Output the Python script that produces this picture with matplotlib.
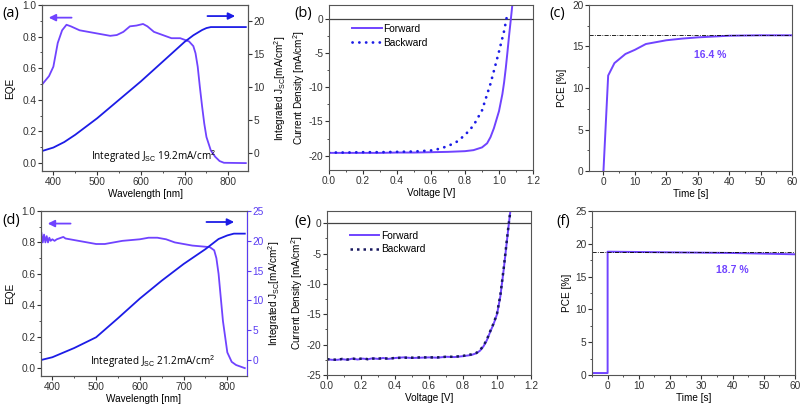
import numpy as np
import matplotlib
matplotlib.use("Agg")
import matplotlib.pyplot as plt
from matplotlib.ticker import MultipleLocator

plt.rcParams['font.family'] = ['Liberation Sans', 'DejaVu Sans']
plt.rcParams['mathtext.fontset'] = 'custom'
plt.rcParams['mathtext.rm'] = 'Liberation Sans'
plt.rcParams['mathtext.it'] = 'Liberation Sans:italic'
plt.rcParams['axes.unicode_minus'] = False
plt.rcParams['font.size'] = 7.2

PURPLE = '#7043ff'
BLUE = '#1c1ce6'
NAVY = '#18185e'
SPINE = '#555555'

# ---- (a) EQE + integrated Jsc, device 1
a_wl = [375, 390, 400, 410, 420, 430, 440, 460, 480, 500, 520, 530, 545, 560, 575, 590, 605, 615,
        630, 650, 670, 690, 700, 710, 720, 725, 730, 735, 740, 745, 750, 760, 770, 780, 790, 840]
a_eqe = [0.50, 0.55, 0.61, 0.76, 0.84, 0.875, 0.865, 0.84, 0.83, 0.82, 0.81, 0.805, 0.81, 0.83, 0.865,
         0.87, 0.88, 0.865, 0.83, 0.81, 0.79, 0.79, 0.78, 0.77, 0.74, 0.695, 0.61, 0.48, 0.36, 0.25,
         0.165, 0.08, 0.04, 0.013, 0.002, 0.0]
a_jwl = [375, 400, 425, 450, 500, 550, 600, 650, 700, 720, 740, 750, 760, 840]
a_jsc = [0.35, 0.86, 1.7, 2.8, 5.3, 8.1, 10.9, 13.9, 16.9, 17.9, 18.7, 19.0, 19.15, 19.15]

# ---- (d) EQE + integrated Jsc, device 2
d_wl = [375, 378, 381, 384, 387, 390, 393, 396, 400, 405, 410, 420, 425, 430, 440, 460, 480, 500, 520,
        540, 560, 580, 600, 620, 640, 660, 680, 700, 720, 740, 760, 770, 775, 780, 785, 790, 795,
        800, 810, 820, 830, 840]
d_eqe = [0.86, 0.80, 0.85, 0.80, 0.84, 0.80, 0.83, 0.81, 0.82, 0.81, 0.82, 0.83, 0.835, 0.825, 0.82,
         0.81, 0.80, 0.79, 0.79, 0.80, 0.81, 0.815, 0.82, 0.83, 0.83, 0.82, 0.80, 0.79, 0.78, 0.775,
         0.77, 0.75, 0.70, 0.60, 0.45, 0.30, 0.20, 0.10, 0.04, 0.02, 0.01, 0.0]
d_jwl = [375, 400, 450, 500, 550, 600, 650, 700, 750, 780, 800, 815, 840]
d_jsc = [0.0, 0.45, 2.0, 3.8, 7.0, 10.3, 13.3, 16.1, 18.6, 20.3, 20.9, 21.2, 21.2]

# ---- (b) J-V, device 1
b_v = [0.0, 0.1, 0.2, 0.3, 0.4, 0.5, 0.6, 0.7, 0.8, 0.85, 0.9, 0.93, 0.95, 0.97, 1.0, 1.02, 1.03,
       1.04, 1.05, 1.06, 1.07, 1.08]
b_fwd = [-19.6, -19.6, -19.6, -19.6, -19.55, -19.55, -19.5, -19.45, -19.35, -19.2, -18.8, -18.2,
         -17.3, -16.0, -13.5, -11.0, -9.3, -7.2, -4.8, -2.3, 0.0, 2.4]
b_bv = [0.0, 0.1, 0.2, 0.3, 0.4, 0.5, 0.6, 0.65, 0.7, 0.75, 0.8, 0.85, 0.9, 0.95, 1.0, 1.03, 1.05]
b_bwd = [-19.55, -19.55, -19.5, -19.5, -19.45, -19.4, -19.25, -19.0, -18.6, -18.0, -17.0, -15.6,
         -13.4, -9.5, -4.8, -1.8, 0.8]

# ---- (e) J-V, device 2
e_v = [0.0, 0.03, 0.06, 0.09, 0.12, 0.15, 0.18, 0.21, 0.24, 0.27, 0.3, 0.33, 0.36, 0.4, 0.45, 0.5,
       0.55, 0.6, 0.65, 0.7, 0.75, 0.8, 0.85, 0.88, 0.9, 0.92, 0.94, 0.96, 0.98, 1.0, 1.02, 1.04,
       1.06, 1.07, 1.08]
e_fwd = [-22.4, -22.5, -22.5, -22.4, -22.5, -22.3, -22.45, -22.3, -22.4, -22.25, -22.35, -22.2,
         -22.35, -22.2, -22.1, -22.2, -22.15, -22.1, -22.15, -22.0, -22.05, -21.9, -21.7, -21.4,
         -21.0, -20.3, -19.3, -17.9, -16.6, -15.0, -12.0, -7.5, -2.5, 0.0, 2.3]
e_bwd = [-22.4, -22.45, -22.5, -22.35, -22.45, -22.3, -22.4, -22.25, -22.4, -22.3, -22.3, -22.25,
         -22.3, -22.2, -22.15, -22.15, -22.1, -22.1, -22.1, -22.0, -22.0, -21.85, -21.6, -21.35,
         -20.9, -20.2, -19.2, -17.8, -16.5, -14.9, -11.8, -7.3, -2.3, 0.1, 2.3]

# ---- (c), (f) stabilised PCE
c_t = [0, 1.5, 3.5, 7, 10, 13.5, 20, 25, 30, 40, 50, 60]
c_pce = [0, 11.5, 13.0, 14.1, 14.6, 15.3, 15.75, 15.95, 16.1, 16.3, 16.35, 16.35]
c_ss = 16.4
f_t = [-5, 0, 0, 10, 20, 30, 40, 50, 60]
f_pce = [0.3, 0.3, 18.8, 18.75, 18.7, 18.65, 18.6, 18.5, 18.4]
f_ss = 18.7

W, H = 802, 409
fig = plt.figure(figsize=(W / 100, H / 100), dpi=100)


def box(l, t, r, b):
    return fig.add_axes([l / W, 1 - b / H, (r - l) / W, (b - t) / H])


def style(ax, right=False):
    for s in ax.spines.values():
        s.set_color(SPINE)
        s.set_linewidth(0.8)
    ax.tick_params(which='both', direction='out', colors='#333333', labelsize=7.3,
                   top=False, right=right, pad=1.5)
    ax.tick_params(which='major', length=2.6)
    ax.tick_params(which='minor', length=1.6)


def panel_label(x, y, s):
    fig.text(x / W, 1 - y / H, s, fontsize=10.5, family=['Open Sans', 'DejaVu Sans'],
             va='center', ha='left')


def eqe_panel(ax, wl, eqe, jwl, jsc, rlim, text, rcolor, ll, rl):
    style(ax)
    ax.plot(wl, eqe, color=PURPLE, lw=1.3)
    ax.set_xlim(374, 845)
    ax.set_ylim(-0.05, 1.0)
    ax.xaxis.set_major_locator(MultipleLocator(100))
    ax.xaxis.set_minor_locator(MultipleLocator(50))
    ax.yaxis.set_major_locator(MultipleLocator(0.2))
    ax.yaxis.set_minor_locator(MultipleLocator(0.1))
    ax.set_xlabel('Wavelength [nm]', labelpad=2)
    ax.set_ylabel('EQE')
    ax.yaxis.set_label_coords(ll, 0.5)
    ax.annotate('', xy=(383, 0.92), xytext=(448, 0.92),
                arrowprops=dict(arrowstyle='-|>', color=PURPLE, lw=1.3, mutation_scale=10))
    ax.annotate('', xy=(822, 0.93), xytext=(746, 0.93),
                arrowprops=dict(arrowstyle='-|>', color=BLUE, lw=1.3, mutation_scale=10))
    ax.text(486, 0.04, text, fontsize=7.2, ha='left', va='center',
            family=['Open Sans', 'DejaVu Sans'])
    ax2 = ax.twinx()
    style(ax2, right=True)
    ax2.plot(jwl, jsc, color=BLUE, lw=1.3)
    ax2.set_ylim(*rlim)
    ax2.yaxis.set_major_locator(MultipleLocator(5))
    ax2.set_ylabel('Integrated J$_{\\mathrm{SC}}$[mA/cm$^2$]')
    ax2.yaxis.set_label_coords(rl, 0.5)
    if rcolor:
        ax2.spines['right'].set_color(rcolor)
        ax2.tick_params(axis='y', colors=rcolor)
    return ax2


def jv_panel(ax, v, fwd, bv, bwd, ylim, bcolor, bls, bcap, blw, yl, leg):
    style(ax)
    ax.axhline(0, color='#444444', lw=0.9)
    ax.plot(v, fwd, color=PURPLE, lw=1.4, label='Forward')
    ax.plot(bv, bwd, color=bcolor, lw=blw, ls=bls, dash_capstyle=bcap, label='Backward')
    ax.set_xlim(0, 1.2)
    ax.set_ylim(*ylim)
    ax.xaxis.set_major_locator(MultipleLocator(0.2))
    ax.xaxis.set_minor_locator(MultipleLocator(0.1))
    ax.yaxis.set_major_locator(MultipleLocator(5))
    ax.yaxis.set_minor_locator(MultipleLocator(2.5))
    ax.set_xlabel('Voltage [V]', labelpad=2)
    ax.set_ylabel('Current Density [mA/cm$^2$]')
    ax.yaxis.set_label_coords(yl, 0.5)
    ax.legend(loc='upper left', bbox_to_anchor=leg, frameon=False, fontsize=7.3,
              handlelength=2.9, handletextpad=0.15, labelspacing=0.35, borderaxespad=0,
              borderpad=0)


def pce_panel(ax, t, pce, ss, xlim, ylim, tx, ty, xl):
    style(ax)
    ax.plot(t, pce, color=PURPLE, lw=1.4)
    ax.axhline(ss, color='black', lw=0.6, ls=(0, (5, 1.5, 1, 1.5)))
    ax.set_xlim(*xlim)
    ax.set_ylim(*ylim)
    ax.xaxis.set_major_locator(MultipleLocator(10))
    ax.xaxis.set_minor_locator(MultipleLocator(5))
    ax.yaxis.set_major_locator(MultipleLocator(5))
    ax.yaxis.set_minor_locator(MultipleLocator(2.5))
    ax.set_xlabel('Time [s]', labelpad=2)
    ax.set_ylabel('PCE [%]')
    ax.yaxis.set_label_coords(xl, 0.5)
    ax.text(tx, ty, f'{ss} %', color=PURPLE, fontweight='bold', fontsize=7.5,
            ha='center', va='center')


axa = box(42, 5, 248, 171)
eqe_panel(axa, a_wl, a_eqe, a_jwl, a_jsc, (-2.7, 22.5),
          'Integrated J$_{\\mathrm{SC}}$ 19.2mA/cm$^2$', None, -0.13, 1.117)
axb = box(329, 5, 533, 170)
jv_panel(axb, b_v, b_fwd, b_bv, b_bwd, (-22.1, 2.0), BLUE, (0, (0.05, 2.4)), 'round', 2.0,
         -0.11, (0.115, 0.885))
axc = box(589, 5, 792, 171)
pce_panel(axc, c_t, c_pce, c_ss, (-4.6, 60), (0, 20), 34, 14.0, -0.108)

axd = box(41, 211, 247, 376)
eqe_panel(axd, d_wl, d_eqe, d_jwl, d_jsc, (-2.7, 25),
          'Integrated J$_{\\mathrm{SC}}$ 21.2mA/cm$^2$', '#5a3cf2', -0.126, 1.095)
axe = box(327, 211, 531, 375)
jv_panel(axe, e_v, e_fwd, e_v, e_bwd, (-25, 2.0), NAVY, (0, (1.0, 1.6)), 'butt', 1.8,
         -0.11, (0.113, 0.88))
axf = box(592, 211, 795, 375)
pce_panel(axf, f_t, f_pce, f_ss, (-5, 60), (0, 25), 40, 16.0, -0.099)

panel_label(2, 13, '(a)')
panel_label(294, 13, '(b)')
panel_label(549, 14, '(c)')
panel_label(2, 220, '(d)')
panel_label(294, 221, '(e)')
panel_label(556, 221, '(f)')

fig.savefig('out.png', dpi=100)
